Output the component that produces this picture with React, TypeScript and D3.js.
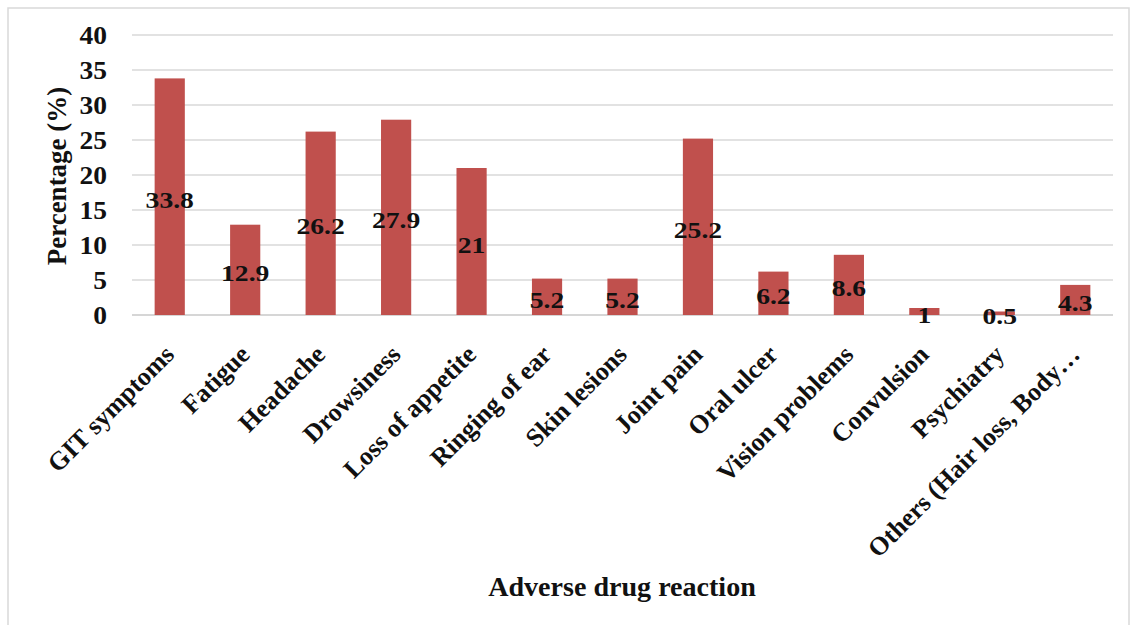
import React from "react";
import * as d3 from "d3";

const categories = [
  "GIT symptoms",
  "Fatigue",
  "Headache",
  "Drowsiness",
  "Loss of appetite",
  "Ringing of ear",
  "Skin lesions",
  "Joint pain",
  "Oral ulcer",
  "Vision problems",
  "Convulsion",
  "Psychiatry",
  "Others (Hair loss, Body…",
];
const values = [33.8, 12.9, 26.2, 27.9, 21, 5.2, 5.2, 25.2, 6.2, 8.6, 1, 0.5, 4.3];
const valueLabels = ["33.8", "12.9", "26.2", "27.9", "21", "5.2", "5.2", "25.2", "6.2", "8.6", "1", "0.5", "4.3"];
const yTicks = [0, 5, 10, 15, 20, 25, 30, 35, 40];
const yTitle = "Percentage (%)";
const xTitle = "Adverse drug reaction";

const W = 1131;
const H = 625;
const left = 132;
const right = 1113;
const top = 35;
const bottom = 315;
const FONT = "'Liberation Serif', 'Times New Roman', serif";

export default function App() {
  const x = d3.scaleBand<string>().domain(categories).range([left, right]).paddingInner(0.6).paddingOuter(0.3);
  const y = d3.scaleLinear().domain([0, 40]).range([bottom, top]);
  return (
    <svg width={W} height={H} style={{ position: "absolute", left: 0, top: 0 }}>
      <rect x={0} y={0} width={W} height={H} fill="#fff" />
      <rect x={8} y={8} width={1121} height={630} fill="none" stroke="#d9d9d9" strokeWidth={1.5} />
      {yTicks.map((t) => (
        <g key={t}>
          <line x1={left} x2={right} y1={y(t)} y2={y(t)} stroke={t === 0 ? "#c8c8c8" : "#d9d9d9"} strokeWidth={1.3} />
          <text
            transform={`translate(107,${y(t)}) scale(1.1,1)`}
            dy="0.35em"
            textAnchor="end"
            fontFamily={FONT}
            fontWeight="bold"
            fontSize={25}
            fill="#111"
          >
            {t}
          </text>
        </g>
      ))}
      {categories.map((c, i) => {
        const x0 = x(c)!;
        const bw = x.bandwidth();
        const v = values[i];
        const yTop = y(v);
        const cx = x0 + bw / 2;
        const cy = (yTop + y(0)) / 2;
        return (
          <g key={c}>
            <rect x={x0} y={yTop} width={bw} height={y(0) - yTop} fill="#c0504d" />
            <text
              transform={`translate(${cx},${cy + 3}) scale(1.2,1)`}
              dy="0.35em"
              textAnchor="middle"
              fontFamily={FONT}
              fontWeight="bold"
              fontSize={23}
              fill="#111"
            >
              {valueLabels[i]}
            </text>
            <text
              transform={`translate(${cx + 6},${356}) rotate(-45)`}
              textAnchor="end"
              fontFamily={FONT}
              fontWeight="bold"
              fontSize={26}
              fill="#111"
            >
              {c}
            </text>
          </g>
        );
      })}
      <text
        transform={`translate(66,${(top + bottom) / 2 + 1}) rotate(-90)`}
        textAnchor="middle"
        fontFamily={FONT}
        fontWeight="bold"
        fontSize={27}
        fill="#111"
      >
        {yTitle}
      </text>
      <text
        transform={`translate(622,596) scale(1.04,1)`}
        textAnchor="middle"
        fontFamily={FONT}
        fontWeight="bold"
        fontSize={27}
        fill="#111"
      >
        {xTitle}
      </text>
    </svg>
  );
}
